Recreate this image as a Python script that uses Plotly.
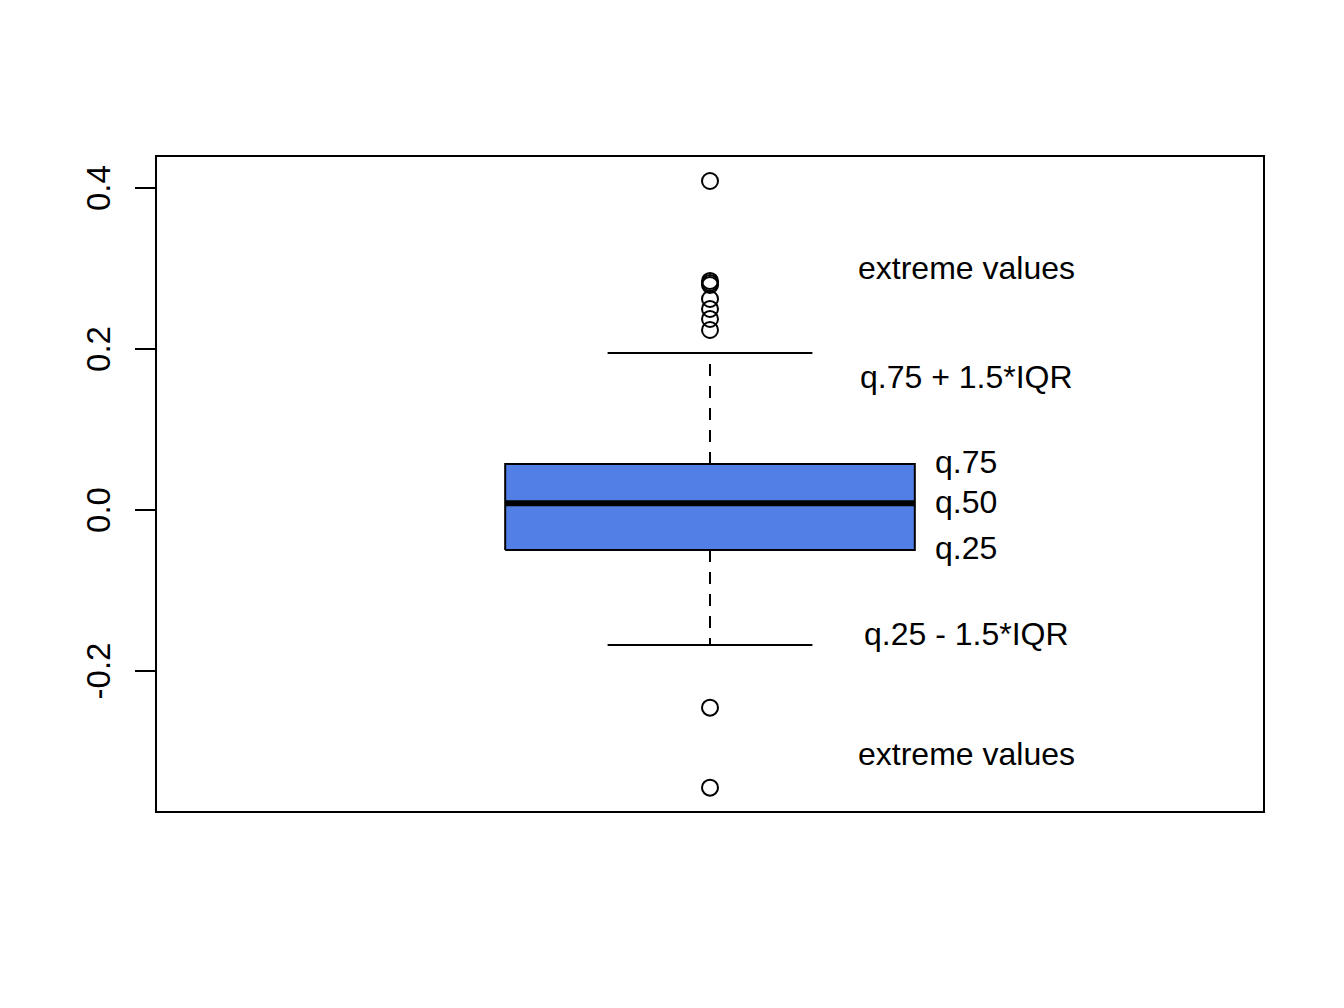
import plotly.graph_objects as go

# Box statistics
q25 = -0.0497
q50 = 0.0083
q75 = 0.0571
lower_whisker = -0.1677
upper_whisker = 0.195
outliers_high = [0.4087, 0.2845, 0.2820, 0.2795, 0.2621, 0.2497, 0.2373, 0.2236]
outliers_low = [-0.2456, -0.345]

# Labels placed to the right of the box
label_text = ['extreme values', 'q.75 + 1.5*IQR', 'q.75', 'q.50', 'q.25',
              'q.25 - 1.5*IQR', 'extreme values']
label_y = [0.300, 0.165, 0.0596, 0.010, -0.047, -0.154, -0.303]

y_ticks = [-0.2, 0.0, 0.2, 0.4]
y_tick_labels = ['-0.2', '0.0', '0.2', '0.4']

box_color = '#517FE6'
font = 'Liberation Sans, Arial, Helvetica, sans-serif'

fig = go.Figure()

# Whiskers (dashed)
fig.add_trace(go.Scatter(x=[1, 1], y=[q75, upper_whisker], mode='lines',
                         line=dict(color='black', width=2, dash='12px,10px')))
fig.add_trace(go.Scatter(x=[1, 1], y=[q25, lower_whisker], mode='lines',
                         line=dict(color='black', width=2, dash='12px,10px')))

# Staples
fig.add_trace(go.Scatter(x=[0.9, 1.1], y=[upper_whisker, upper_whisker], mode='lines',
                         line=dict(color='black', width=2)))
fig.add_trace(go.Scatter(x=[0.9, 1.1], y=[lower_whisker, lower_whisker], mode='lines',
                         line=dict(color='black', width=2)))

# Box
fig.add_trace(go.Scatter(x=[0.8, 1.2, 1.2, 0.8, 0.8], y=[q25, q25, q75, q75, q25],
                         mode='lines', fill='toself', fillcolor=box_color,
                         line=dict(color='black', width=2)))

# Median
fig.add_trace(go.Scatter(x=[0.8, 1.2], y=[q50, q50], mode='lines',
                         line=dict(color='black', width=6)))

# Outliers
outliers = outliers_high + outliers_low
fig.add_trace(go.Scatter(x=[1] * len(outliers), y=outliers, mode='markers',
                         marker=dict(symbol='circle-open', size=16, color='black',
                                     line=dict(width=2, color='black'))))

for txt, yy in zip(label_text, label_y):
    fig.add_annotation(x=1.25, y=yy, text=txt, showarrow=False,
                       xanchor='center', yanchor='middle',
                       font=dict(size=32, color='black', family=font))

fig.update_xaxes(range=[0.46, 1.54], showticklabels=False, ticks='', showgrid=False,
                 zeroline=False, showline=True, mirror=True, linecolor='black', linewidth=2)
fig.update_yaxes(range=[-0.374, 0.4385], tickvals=y_ticks, ticktext=y_tick_labels,
                 tickangle=-90, ticks='outside', ticklen=20, tickwidth=2, tickcolor='black',
                 ticklabelstandoff=12, ticklabelshift=5, showgrid=False, zeroline=False,
                 showline=True, mirror=True, linecolor='black', linewidth=2,
                 tickfont=dict(size=33, color='black', family=font))

fig.update_layout(width=1344, height=1008, showlegend=False,
                  plot_bgcolor='white', paper_bgcolor='white',
                  margin=dict(l=149, r=89, t=149, b=205),
                  font=dict(family=font, color='black'))

fig.write_html("out.html")
